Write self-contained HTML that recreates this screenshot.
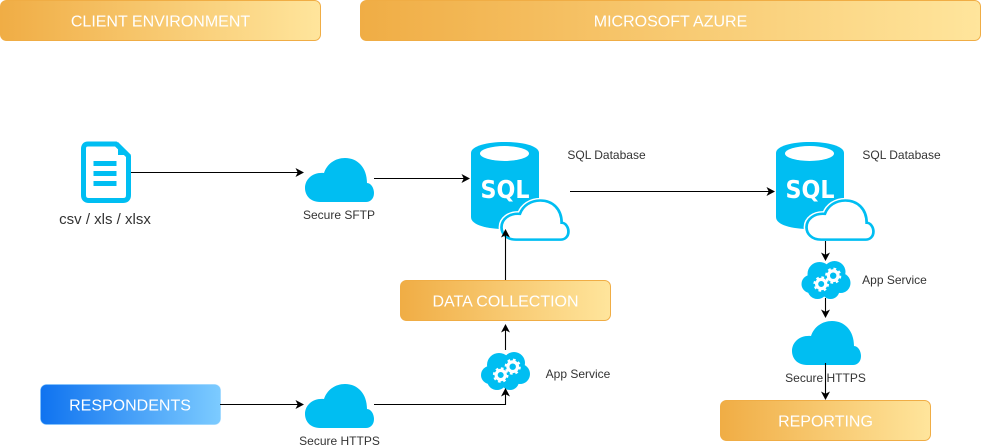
<!DOCTYPE html>
<html><head><meta charset="utf-8"><style>html,body{margin:0;padding:0;background:#fff}svg{display:block}text{font-family:"Liberation Sans",Arial,sans-serif}</style></head>
<body>
<svg width="981" height="447" viewBox="0 0 981 447" xmlns="http://www.w3.org/2000/svg">
<defs>
<linearGradient id="o"><stop offset="0" stop-color="#f0ad45"/><stop offset="1" stop-color="#ffe59c"/></linearGradient>
<linearGradient id="b"><stop offset="0" stop-color="#0f73f0"/><stop offset="1" stop-color="#7ccbff"/></linearGradient>
<path id="a" d="M0 0L-8.500 -4.500L-6.300 0L-8.500 4.500Z" fill="#000"/>
<path id="c" d="M15 44C5 44 0 37 0 30C0 21 8 14 19 15C22 6 30 0 40 0C53 0 62 10 62 25C66 25 69 30 69 35C69 41 65 44 61 44Z"/>
<g id="sql">
<path d="M0 11C0 4 16 0 34 0C52 0 68 4 68 11V75C68 83 52 87 34 87C16 87 0 83 0 75Z" fill="#00bef2"/>
<ellipse cx="33.500" cy="11.500" rx="24.500" ry="7.500" fill="#fff"/>
<text x="34" y="56" text-anchor="middle" textLength="49" lengthAdjust="spacingAndGlyphs" style="font-family:'DejaVu Sans',sans-serif;font-weight:bold;font-size:25px" fill="#fff">SQL</text>
<use href="#c" transform="translate(30.500,58.500) scale(0.97,0.89)" fill="#fff" stroke="#fff" stroke-width="6"/>
<use href="#c" transform="translate(30.500,58.500) scale(0.97,0.89)" fill="#fff" stroke="#00bef2" stroke-width="2.800"/>
</g>
<g id="app">
<g fill="#00bef2"><circle cx="9" cy="23" r="9"/><circle cx="18" cy="13" r="12"/><circle cx="33" cy="11" r="11"/><circle cx="39" cy="22" r="10"/><circle cx="29" cy="29" r="9"/><circle cx="16" cy="28" r="10"/></g>
<g fill="#00bef2" stroke="#fff">
<circle cx="19.700" cy="23" r="6.600" stroke-width="2.400" stroke-dasharray="2.600 2.580" fill="none"/>
<circle cx="19.700" cy="23" r="4.600" stroke-width="3.200"/>
<circle cx="31.700" cy="14.700" r="6.900" stroke-width="2.400" stroke-dasharray="2.700 2.720" fill="none"/>
<circle cx="31.700" cy="14.700" r="4.800" stroke-width="3.200"/>
</g>
</g>
</defs>

<rect x="0.500" y="0.500" width="320" height="40" rx="6" fill="url(#o)" stroke="#f0ad45"/>
<rect x="360.500" y="0.500" width="620" height="40" rx="6" fill="url(#o)" stroke="#f0ad45"/>
<rect x="400.500" y="280.500" width="210" height="40" rx="6" fill="url(#o)" stroke="#f0ad45"/>
<rect x="720.500" y="400.500" width="210" height="40" rx="6" fill="url(#o)" stroke="#f0ad45"/>
<rect x="40.500" y="384.500" width="180" height="40" rx="6" fill="url(#b)" stroke="#7ccbff" stroke-opacity="0.400"/>
<g fill="#fff" font-size="16" text-anchor="middle">
<text x="160.500" y="26.500">CLIENT ENVIRONMENT</text>
<text x="670.500" y="26.500">MICROSOFT AZURE</text>
<text x="505.500" y="306.500">DATA COLLECTION</text>
<text x="825.500" y="426.500">REPORTING</text>
<text x="130" y="410.500">RESPONDENTS</text>
</g>

<path d="M88 144H116L128.500 156V195Q128.500 200.500 123 200.500H89Q83.500 200.500 83.500 195V149Q83.500 144 88 144Z" fill="#fff" stroke="#00bef2" stroke-width="5" stroke-linejoin="round"/>
<path d="M118 142L131 155H118Z" fill="#00bef2"/>
<rect x="93.500" y="161" width="23" height="5" fill="#00bef2"/>
<rect x="93.500" y="171" width="23" height="5" fill="#00bef2"/>
<rect x="93.500" y="181" width="23" height="5" fill="#00bef2"/>

<use href="#c" transform="translate(305,158)" fill="#00bef2"/>
<use href="#c" transform="translate(305,384)" fill="#00bef2"/>
<use href="#c" transform="translate(792,321)" fill="#00bef2"/>

<use href="#sql" transform="translate(471,142)"/>
<use href="#sql" transform="translate(776,142)"/>

<use href="#app" transform="translate(481,352)"/>
<use href="#app" transform="translate(801.500,261)"/>

<g stroke="#000" stroke-width="1.100" fill="none">
<path d="M131 172.500H298"/>
<path d="M374 178.500H464"/>
<path d="M570 191.500H769"/>
<path d="M505.500 280V235"/>
<path d="M505.500 350V330"/>
<path d="M220 404.500H298"/>
<path d="M374 404.500H505.500V394"/>
<path d="M825.500 241V256"/>
<path d="M825.500 298V312"/>
<path d="M825.500 363V394"/>
</g>
<use href="#a" transform="translate(304,172.500)"/>
<use href="#a" transform="translate(470,178.500)"/>
<use href="#a" transform="translate(775,191.500)"/>
<use href="#a" transform="translate(304,404.500)"/>
<use href="#a" transform="translate(505.500,229) rotate(-90)"/>
<use href="#a" transform="translate(505.500,324) rotate(-90)"/>
<use href="#a" transform="translate(505.500,388) rotate(-90)"/>
<use href="#a" transform="translate(825.500,261) rotate(90)"/>
<use href="#a" transform="translate(825.500,318) rotate(90)"/>
<use href="#a" transform="translate(825.500,400) rotate(90)"/>

<g fill="#333" font-size="12" text-anchor="middle">
<text x="339" y="219">Secure SFTP</text>
<text x="339.500" y="445">Secure HTTPS</text>
<text x="825.500" y="382">Secure HTTPS</text>
<text x="606.500" y="159">SQL Database</text>
<text x="901.500" y="159">SQL Database</text>
<text x="578" y="378">App Service</text>
<text x="894.500" y="284">App Service</text>
<text x="105" y="224" font-size="15">csv / xls / xlsx</text>
</g>
</svg>
</body></html>
